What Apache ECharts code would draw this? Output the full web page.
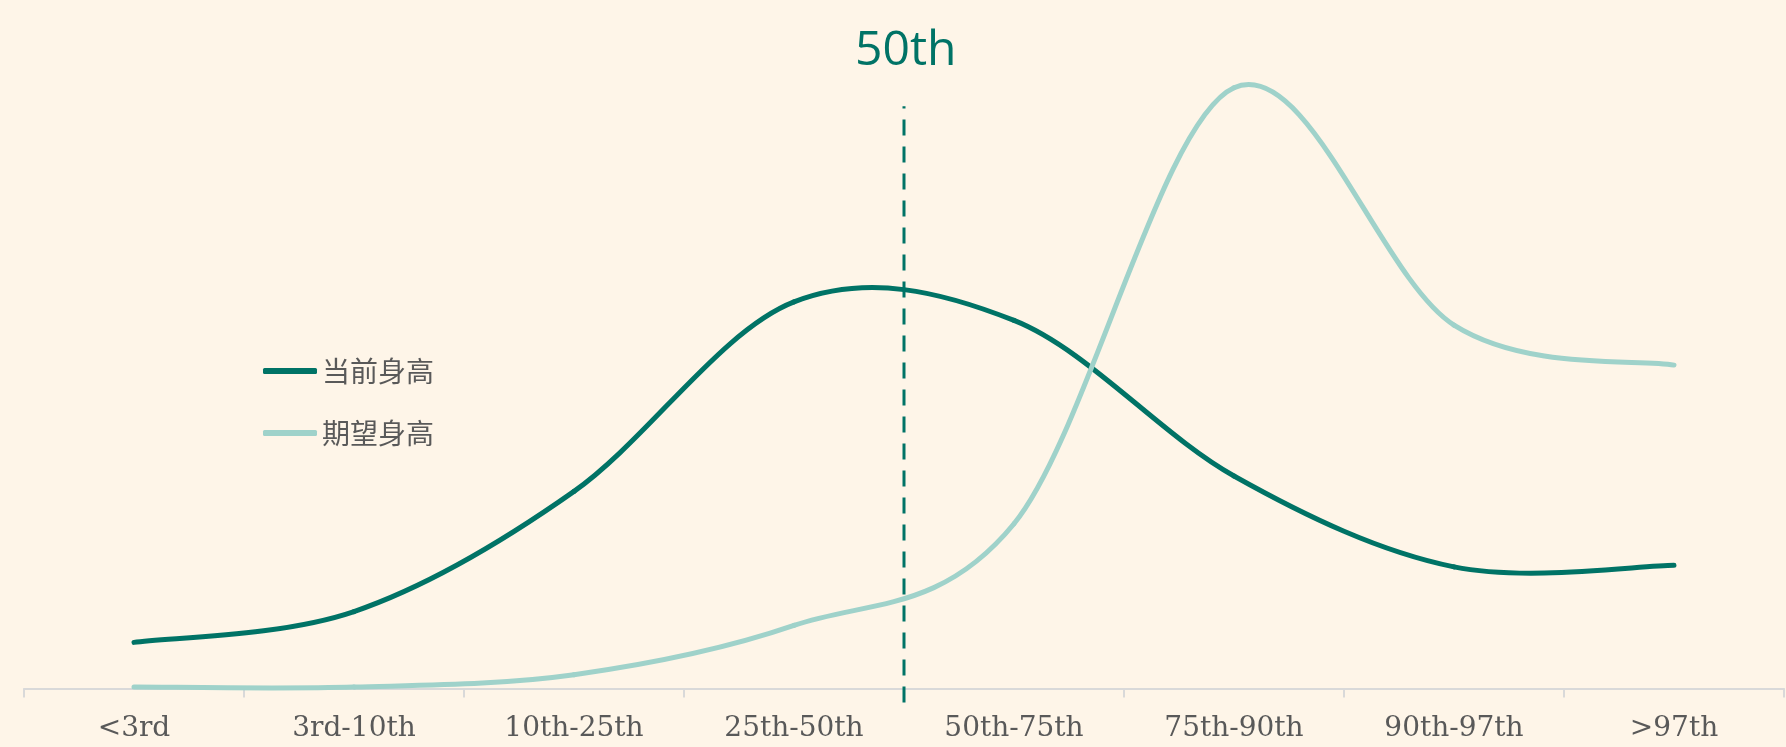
<!DOCTYPE html>
<html>
<head>
<meta charset="utf-8">
<script src="https://cdn.jsdelivr.net/npm/echarts@6/dist/echarts.min.js"></script>
<style>
html,body{margin:0;padding:0;background:#fef5e8;}
#chart{width:1786px;height:747px;}
</style>
</head>
<body>
<div id="chart"></div>
<script>
const categories = ['<3rd', '3rd-10th', '10th-25th', '25th-50th', '50th-75th', '75th-90th', '90th-97th', '>97th'];
const currentHeight = [3.0, 5.0, 12.8, 25.1, 23.9, 13.8, 7.9, 8.0];
const expectedHeight = [0.1, 0.1, 0.9, 4.1, 10.7, 39.0, 23.6, 21.0];
const seriesNames = ['当前身高', '期望身高'];
const markerLabel = '50th';
const markerPosition = 4;            // boundary between 25th-50th and 50th-75th
const markerRange = [-0.9, 37.8];

const dark = '#007366';
const light = '#9fd2ca';

// Smooth (Catmull-Rom style) curve segments drawn through the axis scales
function smoothSeries(name, values, color) {
  return {
    name: name,
    type: 'custom',
    data: values.map((v, i) => [i, v]),
    itemStyle: { color: color },
    renderItem: function (params, api) {
      const i = params.dataIndex;
      if (i >= values.length - 1) return null;
      const pt = k => {
        const kk = Math.max(0, Math.min(values.length - 1, k));
        return api.coord([kk, values[kk]]);
      };
      const p0 = pt(i - 1), p1 = pt(i), p2 = pt(i + 1), p3 = pt(i + 2);
      const t = 1 / 6;
      return {
        type: 'bezierCurve',
        shape: {
          x1: p1[0], y1: p1[1],
          x2: p2[0], y2: p2[1],
          cpx1: p1[0] + (p2[0] - p0[0]) * t, cpy1: p1[1] + (p2[1] - p0[1]) * t,
          cpx2: p2[0] - (p3[0] - p1[0]) * t, cpy2: p2[1] - (p3[1] - p1[1]) * t
        },
        style: { stroke: color, lineWidth: 5, fill: null, lineCap: 'round' },
        silent: true
      };
    }
  };
}

const chart = echarts.init(document.getElementById('chart'));
chart.setOption({
  backgroundColor: '#fef5e8',
  animation: false,
  title: {
    text: markerLabel,
    left: 850,
    top: 22,
    textStyle: { color: dark, fontSize: 48, fontWeight: 'normal', fontFamily: 'Open Sans' }
  },
  legend: {
    data: seriesNames,
    orient: 'vertical',
    left: 258,
    top: 352,
    icon: 'roundRect',
    itemWidth: 54,
    itemHeight: 6,
    itemGap: 34,
    textStyle: { color: '#595959', fontSize: 28, lineHeight: 28, fontFamily: 'Noto Sans CJK SC' }
  },
  grid: { left: 24, right: 2, top: 57, bottom: 43 },
  xAxis: [{
    type: 'category',
    data: categories,
    boundaryGap: true,
    axisLine: { lineStyle: { color: '#d9d9d9', width: 2 } },
    axisTick: { show: true, length: 9, lineStyle: { color: '#d9d9d9', width: 2 } },
    axisLabel: { color: '#595959', fontSize: 28, fontFamily: 'DejaVu Serif', margin: 11 },
    splitLine: { show: false }
  }, {
    type: 'value',
    min: 0,
    max: 8,
    show: false
  }],
  yAxis: {
    type: 'value',
    min: -1,
    max: 41,
    show: false,
    splitLine: { show: false }
  },
  series: [
    smoothSeries(seriesNames[0], currentHeight, dark),
    smoothSeries(seriesNames[1], expectedHeight, light),
    {
      name: 'marker',
      type: 'line',
      xAxisIndex: 1,
      symbol: 'none',
      silent: true,
      data: [[markerPosition, markerRange[0]], [markerPosition, markerRange[1]]],
      lineStyle: { color: dark, width: 3, type: [16, 11] },
      itemStyle: { color: dark }
    }
  ]
});
</script>
</body>
</html>
